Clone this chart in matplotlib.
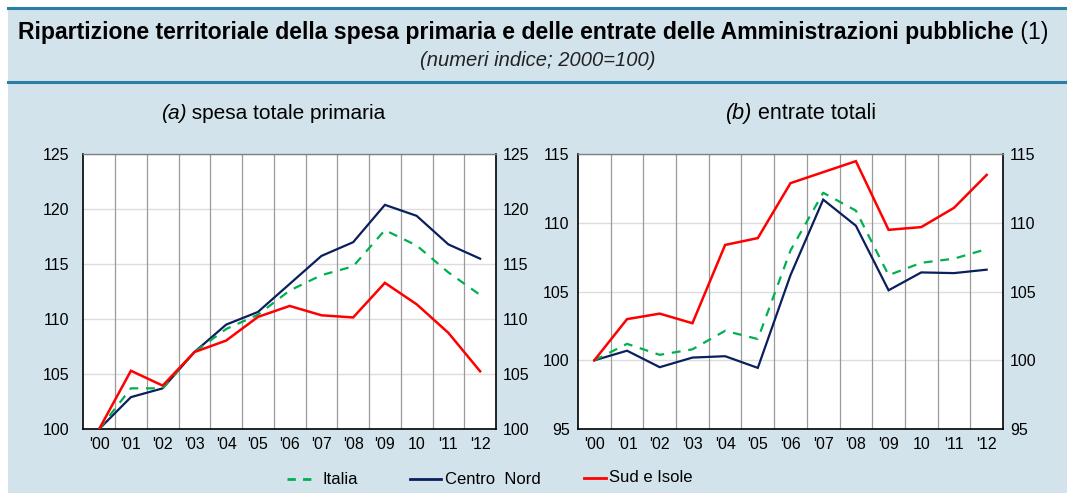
import matplotlib
matplotlib.use("Agg")
import matplotlib.pyplot as plt
from matplotlib import font_manager
from matplotlib.lines import Line2D
import numpy as np

# ---------------- data ----------------
years = ["'00", "'01", "'02", "'03", "'04", "'05", "'06", "'07", "'08", "'09", "10", "'11", "'12"]

spesa_italia = [100, 103.7, 103.7, 107.0, 109.1, 110.4, 112.6, 114.0, 114.8, 118.1, 116.7, 114.25, 112.2]
spesa_centro_nord = [100, 102.9, 103.7, 107.0, 109.5, 110.65, 113.2, 115.75, 117.0, 120.4, 119.4, 116.8, 115.5]
spesa_sud = [100, 105.3, 103.95, 107.0, 108.05, 110.2, 111.2, 110.35, 110.15, 113.3, 111.35, 108.75, 105.25]

entrate_italia = [100, 101.2, 100.4, 100.8, 102.15, 101.55, 108.0, 112.2, 110.9, 106.2, 107.1, 107.4, 108.1]
entrate_centro_nord = [100, 100.7, 99.5, 100.2, 100.3, 99.45, 106.2, 111.7, 109.8, 105.1, 106.4, 106.35, 106.6]
entrate_sud = [100, 103.0, 103.4, 102.7, 108.4, 108.9, 112.9, 113.7, 114.5, 109.5, 109.7, 111.1, 113.5]

series_names = ["Italia", "Centro  Nord", "Sud e Isole"]
title_main = "Ripartizione territoriale della spesa primaria e delle entrate delle Amministrazioni pubbliche"
title_note = " (1)"
subtitle = "(numeri indice; 2000=100)"

# ---------------- style ----------------
available = {f.name for f in font_manager.fontManager.ttflist}
base = "Liberation Sans" if "Liberation Sans" in available else "DejaVu Sans"
plt.rcParams["font.family"] = [base, "DejaVu Sans"]

BG = "#d2e3ec"
TEAL = "#2a7fa3"
NAVY = "#0b1f5c"
RED = "#ff0000"
GREEN = "#00b050"

fig = plt.figure(figsize=(10.67, 4.93), dpi=100)
fig.patch.set_facecolor("white")

W, H = 1067, 493
def fx(px):
    return px / W
def fy(py):
    return 1 - py / H

# panel background
bg = plt.Rectangle((fx(8), 0), 1 - fx(8), fy(8), transform=fig.transFigure,
                   facecolor=BG, edgecolor="none", zorder=-10)
fig.add_artist(bg)
for yline in (8, 82):
    fig.add_artist(Line2D([fx(8), 1], [fy(yline), fy(yline)], transform=fig.transFigure,
                          color=TEAL, lw=2.2, zorder=-5))

# title
t1 = fig.text(fx(18), fy(33), title_main, ha="left", va="center", fontsize=16.6,
              fontweight="bold", color="black")
fig.canvas.draw()
bb = t1.get_window_extent(renderer=fig.canvas.get_renderer())
fig.text(bb.x1 / W, fy(33), title_note, ha="left", va="center", fontsize=16.6, color="black")
fig.text(fx(538), fy(60), subtitle, ha="center", va="center", fontsize=14.5, style="italic",
         color="#222222")

x = np.arange(len(years))
TOP, BOT = 154.3, 429.0

def make_axes(x0, x1, ylim, yticks, sI, sC, sS, lpad, rpad):
    ax = fig.add_axes([fx(x0), fy(BOT), fx(x1 - x0), (BOT - TOP) / H])
    ax.set_facecolor("white")
    ax.set_xlim(-0.5, len(years) - 0.5)
    ax.set_ylim(*ylim)
    ax.set_yticks(yticks)
    ax.set_xticks(x)
    ax.set_xticklabels(years, fontsize=11.5)
    for b in np.arange(0.5, len(years) - 0.5, 1.0):
        ax.axvline(b, color="#9a9a9a", lw=0.9, zorder=1)
    ax.yaxis.grid(True, color="#dcdcdc", lw=1.0, zorder=0)
    ax.set_axisbelow(True)
    ax.tick_params(axis="x", length=0, labelsize=11.5, pad=6)
    ax.tick_params(axis="y", length=0, labelsize=11.5, pad=lpad)
    for s in ("left", "right", "bottom"):
        ax.spines[s].set_color("black")
        ax.spines[s].set_linewidth(1.2)
    ax.spines["top"].set_color("#808080")
    ax.spines["top"].set_linewidth(1.0)
    ax.plot(x, sC, color=NAVY, lw=1.6, zorder=3, solid_joinstyle="miter")
    ax.plot(x, sI, color=GREEN, lw=1.6, ls=(0, (4, 3.5)), zorder=4)
    ax.plot(x, sS, color=RED, lw=1.8, zorder=5, solid_joinstyle="miter")
    ax2 = ax.twinx()
    ax2.set_ylim(*ylim)
    ax2.set_yticks(yticks)
    ax2.tick_params(axis="y", length=0, labelsize=11.5, pad=rpad)
    for s in ax2.spines.values():
        s.set_visible(False)
    return ax

axA = make_axes(83.3, 496, (100, 125), [100, 105, 110, 115, 120, 125],
                spesa_italia, spesa_centro_nord, spesa_sud, 10, 5)
axB = make_axes(578, 1003, (95, 115), [95, 100, 105, 110, 115],
                entrate_italia, entrate_centro_nord, entrate_sud, 6, 5)

# subplot titles
def mixed_title(xc, yc, italic_part, rest, size):
    ta = fig.text(0, fy(yc), italic_part, ha="left", va="center", fontsize=size, style="italic")
    tb = fig.text(0, fy(yc), rest, ha="left", va="center", fontsize=size)
    fig.canvas.draw()
    r = fig.canvas.get_renderer()
    wa = ta.get_window_extent(r).width
    wb = tb.get_window_extent(r).width
    x0 = xc - (wa + wb) / 2
    ta.set_x(x0 / W)
    tb.set_x((x0 + wa) / W)

mixed_title(273, 113, "(a)", " spesa totale primaria", 15)
mixed_title(801, 113, "(b)", " entrate totali", 15.5)

# legend
def legend_item(x0, x1, xt, ytxt, color, ls, label, yline):
    fig.add_artist(Line2D([fx(x0), fx(x1)], [fy(yline), fy(yline)], transform=fig.transFigure,
                          color=color, lw=2.0, ls=ls))
    fig.text(fx(xt), fy(ytxt), label, ha="left", va="center", fontsize=12)

legend_item(287, 311, 322, 479, GREEN, (0, (3.0, 2.6)), series_names[0], 478.6)
legend_item(410, 441, 445, 479, NAVY, "-", series_names[1], 478.6)
legend_item(584, 606, 609, 477, RED, "-", series_names[2], 478)

fig.savefig("out.png", dpi=100, facecolor=fig.get_facecolor())
